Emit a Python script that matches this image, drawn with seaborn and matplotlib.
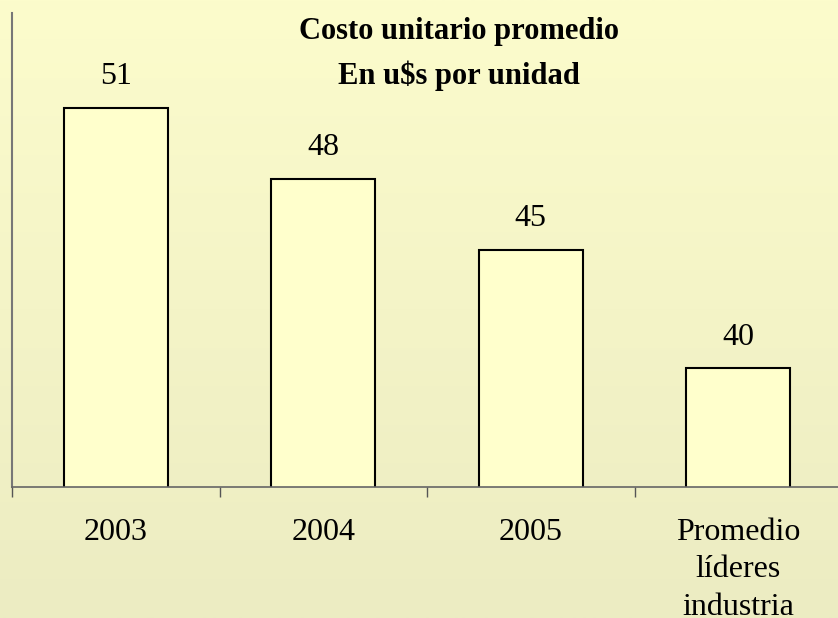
import numpy as np
import pandas as pd
import matplotlib
matplotlib.use('Agg')
import matplotlib.pyplot as plt
import seaborn as sns
from matplotlib.colors import LinearSegmentedColormap

# data
categories = ['2003', '2004', '2005', 'Promedio\nlíderes\nindustria']
costs = [51, 48, 45, 40]

df = pd.DataFrame({'cat': categories, 'cost': costs})

sns.set_style('white')
plt.rcParams['font.family'] = ['Liberation Serif', 'DejaVu Serif']
plt.rcParams['text.color'] = 'black'
plt.rcParams['xtick.color'] = 'black'
plt.rcParams['xtick.labelcolor'] = 'black'

fig = plt.figure(figsize=(8.38, 6.18), dpi=100)

# background gradient
bg = fig.add_axes([0, 0, 1, 1], zorder=-10)
cmap = LinearSegmentedColormap.from_list('bg', ['#fcfccc', '#ececc2'])
bg.imshow(np.linspace(0, 1, 256).reshape(-1, 1), aspect='auto', cmap=cmap,
          extent=[0, 1, 0, 1])
bg.axis('off')

ax = fig.add_axes([12 / 838, 131 / 618, 830 / 838, 474 / 618])
ax.patch.set_alpha(0)

sns.barplot(data=df, x='cat', y='cost', color='#ffffcc', width=0.5,
            edgecolor='black', linewidth=1.5, saturation=1, ax=ax)
for p in ax.patches:
    p.set_facecolor('#ffffcc')

ax.set_ylim(35, 55)
ax.set_xlim(-0.5, 3.5)
ax.bar_label(ax.containers[0], labels=[str(v) for v in costs],
             padding=12, fontsize=23, color='black')

ax.set_xlabel('')
ax.set_ylabel('')
ax.set_yticks([])
ax.set_xticks([-0.5, 0.5, 1.5, 2.5], minor=True)
ax.tick_params(axis='x', which='major', length=0, pad=22, labelsize=23,
               labelcolor='black')
ax.tick_params(axis='x', which='minor', length=7, width=1, color='#555555',
               direction='out', bottom=True)
for lbl in ax.get_xticklabels():
    lbl.set_linespacing(1.4)
    lbl.set_verticalalignment('top')

for s in ['top', 'right']:
    ax.spines[s].set_visible(False)
ax.spines['left'].set_color('#777777')
ax.spines['left'].set_linewidth(1.5)
ax.spines['bottom'].set_color('#666666')
ax.spines['bottom'].set_linewidth(1.2)

fig.text(459 / 838, 1 - 31 / 618, 'Costo unitario promedio', ha='center',
         va='center', fontsize=22, fontweight='bold', color='black')
fig.text(459 / 838, 1 - 76 / 618, 'En u$s por unidad', ha='center',
         va='center', fontsize=22, fontweight='bold', color='black')

fig.savefig('out.png', dpi=100)
